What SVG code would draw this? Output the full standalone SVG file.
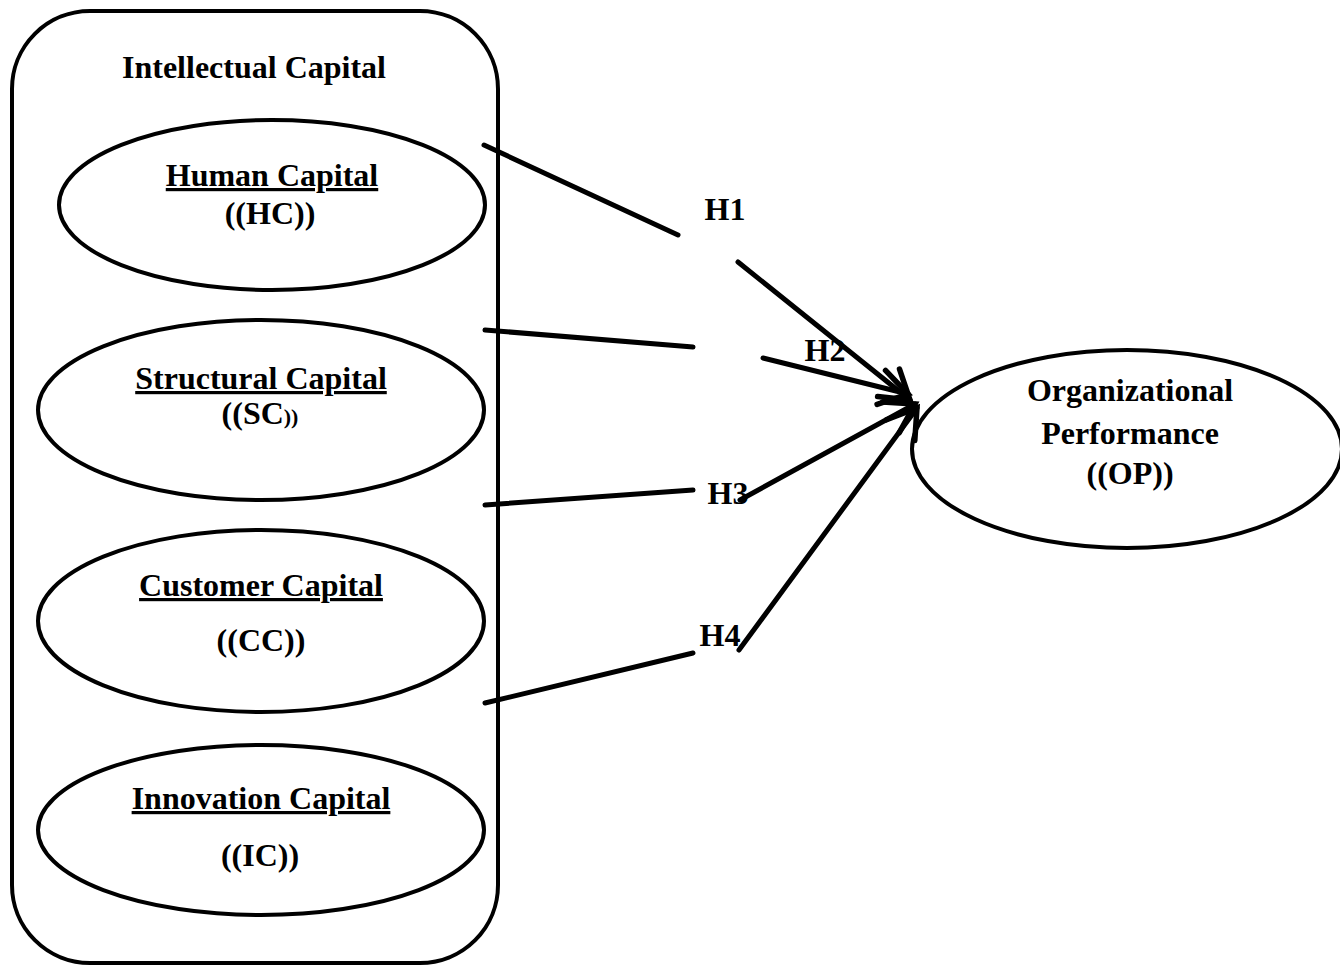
<svg xmlns="http://www.w3.org/2000/svg" width="1340" height="967" viewBox="0 0 1340 967">
<style>
.shape{fill:none;stroke:#000;stroke-width:4}
.t{font-family:"Liberation Serif","Times New Roman",serif;font-weight:bold;font-size:32px;fill:#000;text-anchor:middle}
.u{text-decoration:underline}
.ln{fill:none;stroke:#000;stroke-width:5;stroke-linecap:round}
.ar{fill:none;stroke:#000;stroke-width:5;stroke-linecap:round;marker-end:url(#head)}
</style>
<defs>
<marker id="head" markerWidth="9" markerHeight="9" refX="6.5" refY="4.5" orient="auto" markerUnits="strokeWidth">
<path d="M1,1 L6.5,4.5 L1,8" fill="none" stroke="#000" stroke-width="1.1" stroke-linecap="round"/>
</marker>
</defs>
<rect width="1340" height="967" fill="#fff"/>
<g id="intellectual-capital">
<rect class="shape" x="12" y="11" width="486" height="952" rx="78" ry="78"/>
<text class="t" x="254" y="78">Intellectual Capital</text>
</g>
<g id="hc">
<ellipse class="shape" cx="272" cy="205" rx="213" ry="85"/>
<text class="t u" x="272" y="186">Human Capital</text>
<text class="t" x="270" y="224">((HC))</text>
</g>
<g id="sc">
<ellipse class="shape" cx="261" cy="410" rx="223" ry="90"/>
<text class="t u" x="261" y="389">Structural Capital</text>
<text class="t" x="260" y="424">((SC<tspan font-size="22">))</tspan></text>
</g>
<g id="cc">
<ellipse class="shape" cx="261" cy="621" rx="223" ry="91"/>
<text class="t u" x="261" y="596">Customer Capital</text>
<text class="t" x="261" y="651">((CC))</text>
</g>
<g id="ic">
<ellipse class="shape" cx="261" cy="830" rx="223" ry="85"/>
<text class="t u" x="261" y="809">Innovation Capital</text>
<text class="t" x="260" y="866">((IC))</text>
</g>
<g id="op">
<ellipse class="shape" cx="1127" cy="449" rx="215" ry="99"/>
<text class="t" x="1130" y="401">Organizational</text>
<text class="t" x="1130" y="444">Performance</text>
<text class="t" x="1130" y="484">((OP))</text>
</g>
<g id="connectors">
<line class="ln" x1="484" y1="145" x2="678" y2="235"/>
<line class="ar" x1="738" y1="262" x2="910" y2="400"/>
<line class="ln" x1="485" y1="330" x2="693" y2="347"/>
<line class="ar" x1="763" y1="358" x2="908" y2="394"/>
<line class="ln" x1="485" y1="505" x2="693" y2="490"/>
<line class="ar" x1="740" y1="500" x2="915" y2="404"/>
<line class="ln" x1="485" y1="703" x2="693" y2="653"/>
<line class="ar" x1="739" y1="650" x2="917" y2="408"/>
<text class="t" x="725" y="220">H1</text>
<text class="t" x="825" y="361">H2</text>
<text class="t" x="728" y="504">H3</text>
<text class="t" x="720" y="646">H4</text>
</g>
</svg>
